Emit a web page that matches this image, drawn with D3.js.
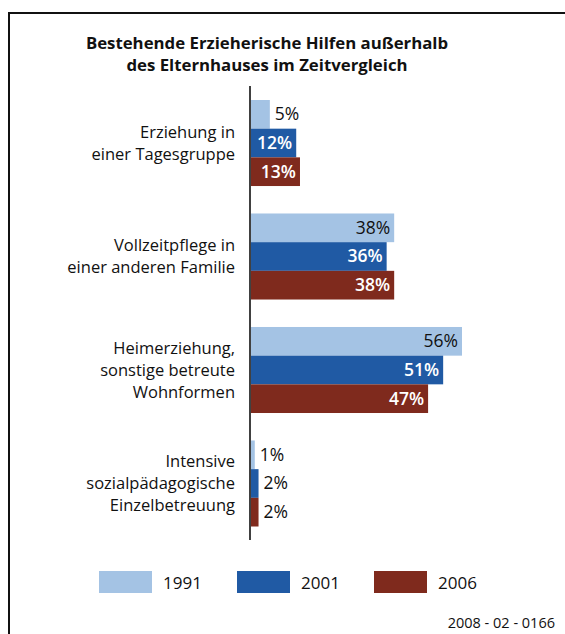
<!DOCTYPE html>
<html><head><meta charset="utf-8">
<script src="https://cdn.jsdelivr.net/npm/d3@7"></script>
<style>
html,body{margin:0;padding:0;background:#fff;}
svg{display:block;font-family:"Open Sans",sans-serif;}
</style></head>
<body>
<svg id="chart" width="565" height="634"></svg>
<script>
const titleLines = ["Bestehende Erzieherische Hilfen außerhalb", "des Elternhauses im Zeitvergleich"];
const categories = ["Erziehung in\neiner Tagesgruppe", "Vollzeitpflege in\neiner anderen Familie", "Heimerziehung,\nsonstige betreute\nWohnformen", "Intensive\nsozialpädagogische\nEinzelbetreuung"];
const seriesNames = ["1991", "2001", "2006"];
const values1991 = [5, 38, 56, 1];
const values2001 = [12, 36, 51, 2];
const values2006 = [13, 38, 47, 2];
const colors = ["#a4c3e4", "#205aa4", "#7f2a1d"];
const footer = "2008 - 02 - 0166";

const series = [values1991, values2001, values2006];
const svg = d3.select("#chart");

// frame
svg.append("path").attr("d", "M9,640 L9,13 L570,13").attr("fill", "none").attr("stroke", "#111").attr("stroke-width", 2);

// title
svg.append("text").attr("x", 267).attr("y", 49).attr("text-anchor", "middle")
  .attr("font-weight", "bold").attr("font-size", 16.8).attr("fill", "#111")
  .selectAll("tspan").data(titleLines).join("tspan")
  .attr("x", 267).attr("dy", (d, i) => i === 0 ? 0 : 22).text(d => d);

const x = d3.scaleLinear().domain([0, 56]).range([251, 462]);
const y = d3.scaleBand().domain(categories).range([100, 526.5]).paddingInner(0.242).paddingOuter(0);
const ys = d3.scaleBand().domain(seriesNames).range([0, y.bandwidth()]);

const groups = svg.selectAll("g.grp").data(categories).join("g").attr("class", "grp")
  .attr("transform", d => `translate(0,${y(d)})`);

seriesNames.forEach((s, si) => {
  groups.append("rect")
    .attr("x", x(0))
    .attr("y", ys(s))
    .attr("width", (d, i) => x(series[si][i]) - x(0))
    .attr("height", ys.bandwidth())
    .attr("fill", colors[si]);
  const inside = i => series[si][i] >= 10;
  const white = i => inside(i) && si > 0;
  groups.append("text")
    .attr("x", (d, i) => {
      const v = series[si][i];
      return inside(i) ? x(v) - 4 : x(v) + 5;
    })
    .attr("y", ys(s) + ys.bandwidth() / 2 + 6)
    .attr("text-anchor", (d, i) => inside(i) ? "end" : "start")
    .attr("font-size", 17.5)
    .attr("font-weight", (d, i) => white(i) ? 600 : 400)
    .attr("fill", (d, i) => white(i) ? "#fff" : "#111")
    .text((d, i) => series[si][i] + "%");
});

// category labels
groups.append("text")
  .attr("text-anchor", "end").attr("font-size", 16.5).attr("fill", "#111")
  .each(function(d) {
    const lines = d.split("\n");
    const n = lines.length;
    d3.select(this).selectAll("tspan").data(lines).join("tspan")
      .attr("x", 235)
      .attr("y", (l, i) => y.bandwidth() / 2 + 6 + (i - (n - 1) / 2) * 22)
      .text(l => l);
  });

// axis line
svg.append("line").attr("x1", 250).attr("x2", 250).attr("y1", 86).attr("y2", 540)
  .attr("stroke", "#111").attr("stroke-width", 1.6);

// legend
const legX = [99, 237, 374];
const leg = svg.selectAll("g.leg").data(seriesNames).join("g").attr("class", "leg")
  .attr("transform", (d, i) => `translate(${legX[i]},571)`);
leg.append("rect").attr("width", 53).attr("height", 22).attr("fill", (d, i) => colors[i]);
leg.append("text").attr("x", 64).attr("y", 17.5).attr("font-size", 17).attr("fill", "#111").text(d => d);

svg.append("text").attr("x", 555).attr("y", 628).attr("text-anchor", "end")
  .attr("font-size", 14.5).attr("fill", "#111").text(footer);
</script>
</body></html>
